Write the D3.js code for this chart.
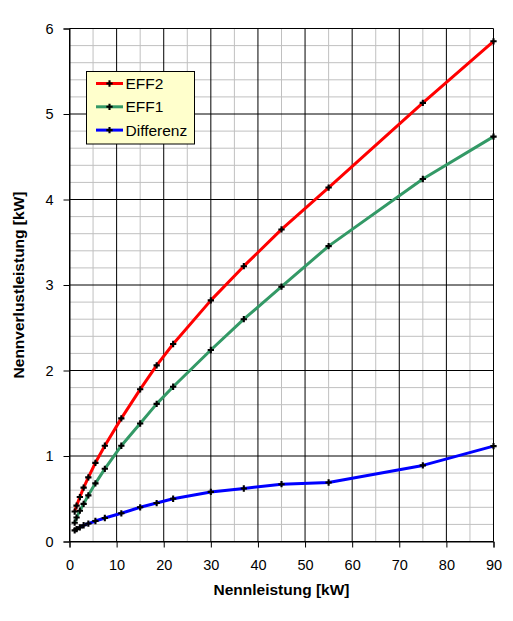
<!DOCTYPE html>
<html><head><meta charset="utf-8">
<script src="https://cdn.jsdelivr.net/npm/d3@7"></script>
<style>body{margin:0;background:#fff}svg{display:block}text{font-family:"Liberation Sans",Arial,sans-serif}</style>
</head><body><svg id="c" width="513" height="621"></svg>
<script>
const kW = [1.1, 1.5, 2.2, 3, 4, 5.5, 7.5, 11, 15, 18.5, 22, 30, 37, 45, 55, 75, 90];
const eff2 = [0.35, 0.42, 0.52, 0.63, 0.75, 0.92, 1.12, 1.44, 1.78, 2.06, 2.31, 2.82, 3.22, 3.65, 4.14, 5.13, 5.85];
const eff1 = [0.22, 0.28, 0.36, 0.44, 0.54, 0.68, 0.85, 1.12, 1.38, 1.61, 1.81, 2.24, 2.60, 2.98, 3.455, 4.24, 4.735];
const diff = [0.13, 0.145, 0.165, 0.19, 0.21, 0.24, 0.275, 0.33, 0.40, 0.45, 0.50, 0.58, 0.62, 0.67, 0.69, 0.89, 1.115];
const seriesNames = ["EFF2", "EFF1", "Differenz"];
const seriesColors = ["#FF0000", "#339966", "#0000FF"];
const xTicks = [0,10,20,30,40,50,60,70,80,90];
const yTicks = [0,1,2,3,4,5,6];

const svg = d3.select("#c");
const L = 69.5, R = 493.5, T = 28.5, B = 541.5;
const x = d3.scaleLinear().domain([0,90]).range([L,R]);
const y = d3.scaleLinear().domain([0,6]).range([B,T]);

// minor grid
const g = svg.append("g");
g.selectAll(".mx").data(d3.range(5,90,10)).join("line")
  .attr("x1",d=>x(d)).attr("x2",d=>x(d)).attr("y1",T).attr("y2",B)
  .attr("stroke","#C0C0C0").attr("stroke-width",1);
g.selectAll(".my").data(d3.range(0,6.01,0.2).filter(v=>Math.abs(v-Math.round(v))>0.01)).join("line")
  .attr("x1",L).attr("x2",R).attr("y1",d=>y(d)).attr("y2",d=>y(d))
  .attr("stroke","#C0C0C0").attr("stroke-width",1);
// major grid
g.selectAll(".Mx").data(xTicks).join("line")
  .attr("x1",d=>x(d)).attr("x2",d=>x(d)).attr("y1",T).attr("y2",B)
  .attr("stroke","#000").attr("stroke-width",1);
g.selectAll(".My").data(yTicks).join("line")
  .attr("x1",L).attr("x2",R).attr("y1",d=>y(d)).attr("y2",d=>y(d))
  .attr("stroke","#000").attr("stroke-width",1);

// axes
const xa = svg.append("g").attr("transform",`translate(0,${B})`)
  .call(d3.axisBottom(x).tickValues(xTicks).tickSize(6).tickPadding(12).tickFormat(d3.format("d")));
const ya = svg.append("g").attr("transform",`translate(${L},0)`)
  .call(d3.axisLeft(y).tickValues(yTicks).tickSize(6).tickPadding(10).tickFormat(d3.format("d")));
[xa,ya].forEach(a=>{
  a.select(".domain").attr("stroke","#000");
  a.selectAll(".tick line").attr("stroke","#000");
  a.selectAll("text").attr("font-size","14.5px").attr("fill","#000")
   .style("font-family",'"Liberation Sans",Arial,sans-serif');
});

// series
const data = [eff2, eff1, diff];
const line = d3.line().x((d,i)=>x(kW[i])).y(d=>y(d));
data.forEach((s,k)=>{
  svg.append("path").datum(s).attr("d",line).attr("fill","none")
    .attr("stroke",seriesColors[k]).attr("stroke-width",3).attr("stroke-linejoin","round");
});
const sym = d3.symbol().type(d3.symbolCross).size(22);
data.forEach((s,k)=>{
  svg.append("g").selectAll("path").data(s).join("path")
    .attr("transform",(d,i)=>`translate(${x(kW[i])},${y(d)})`)
    .attr("d",sym).attr("fill","#000");
});

// legend
const lg = svg.append("g");
lg.append("rect").attr("x",86.5).attr("y",71.5).attr("width",108).attr("height",72.5)
  .attr("fill","#FFFFCC").attr("stroke","#000").attr("stroke-width",1);
seriesNames.forEach((n,k)=>{
  const yy = 83.5 + k*23.3;
  lg.append("line").attr("x1",96).attr("x2",123).attr("y1",yy).attr("y2",yy)
    .attr("stroke",seriesColors[k]).attr("stroke-width",3);
  lg.append("path").attr("transform",`translate(109.5,${yy})`).attr("d",sym).attr("fill","#000");
  lg.append("text").attr("x",125.5).attr("y",yy+5.5).attr("font-size","15.5px").text(n);
});

// axis titles
svg.append("text").attr("x",(L+R)/2).attr("y",594.5).attr("text-anchor","middle")
  .attr("font-size","15.5px").attr("font-weight","bold").text("Nennleistung [kW]");
svg.append("text").attr("transform",`translate(24,${(T+B)/2}) rotate(-90)`).attr("text-anchor","middle")
  .attr("font-size","15.5px").attr("font-weight","bold").text("Nennverlustleistung [kW]");
</script></body></html>
